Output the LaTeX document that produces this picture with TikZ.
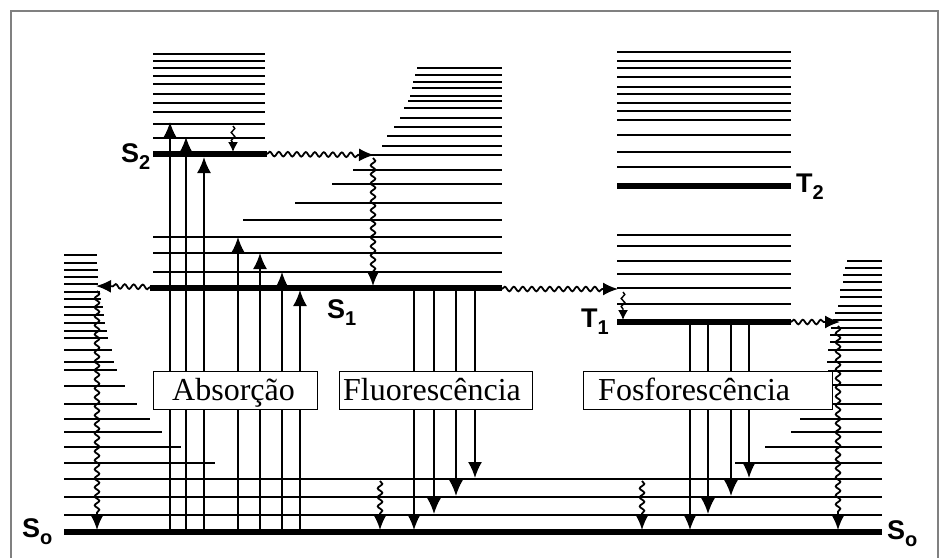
\documentclass[tikz,border=0pt]{standalone}
\usepackage{fontspec}
\setmainfont{Liberation Serif}
\setsansfont{Liberation Sans}
\usetikzlibrary{arrows.meta}
\usetikzlibrary{decorations.pathmorphing}

\newcommand{\est}[2]{#1\raisebox{-7pt}{\fontsize{20}{20}\selectfont #2}}

\begin{document}
\begin{tikzpicture}[x=1pt,y=-1pt,
		nivel/.style={line width=2pt},
		fundo/.style={line width=5.5pt},
		seta/.style={line width=1.8pt,-{Latex[length=16pt,width=14pt]}},
		onda/.style={line width=1.8pt,decorate,decoration={snake,amplitude=2.3pt,segment length=9pt,post length=14pt},-{Latex[length=15pt,width=13pt]}},
		ondinha/.style={line width=1.4pt,decorate,decoration={snake,amplitude=1.8pt,segment length=8pt,post length=9pt},-{Latex[length=10pt,width=10pt]}},
		caixa/.style={draw,line width=1pt,fill=white},
		rotulo/.style={font=\fontsize{32}{32}\selectfont,inner sep=0pt,anchor=base west},
		estado/.style={font=\sffamily\bfseries\fontsize{27}{27}\selectfont,inner sep=0pt,anchor=base west}]
		\useasboundingbox (0,0) rectangle (941,557);
		\draw[gray,line width=2pt] (11,11) rectangle (938,620);
		% S0 vibrational levels
		\foreach \y/\xf in {255/97,263/97,270/98,277/98,284/98,292/100,299/101,307/103,315/104,323/105,331/107,338/108,350/112,362/114,370/117,386/125,404/137,419/150,432/162,447/181,463/215}
			\draw[nivel] (64,\y) -- (\xf,\y);
		\foreach \y/\xi in {261/847,268/845,275/843,282/843,290/840,297/840,306/838,313/835,320/833,328/831,335/830,342/830,350/828,362/827,371/828,385/827,404/815,419/800,432/791,447/765,463/735}
			\draw[nivel] (\xi,\y) -- (882,\y);
		\foreach \y in {479,497,515}
			\draw[nivel] (64,\y) -- (882,\y);
		\draw[fundo] (64,532) -- (882,532);
		% S2
		\foreach \y in {54,61,68,76,84,94,103,112,124,138}
			\draw[nivel] (153,\y) -- (265,\y);
		\draw[fundo] (153,154) -- (267,154);
		% S1
		\foreach \y/\xi in {68/417,75/415,82/413,88/412,96/410,101/408,108/404,118/400,127/394,136/387,146/382,155/370,170/353,184/332,203/295,220/243,237/153,253/153,272/153}
			\draw[nivel] (\xi,\y) -- (502,\y);
		\draw[fundo] (150,288) -- (502,288);
		% T2 and T1
		\foreach \y in {52,61,68,77,87,94,103,111,120,135,152,167,235,246,261,274,288,304}
			\draw[nivel] (617,\y) -- (791,\y);
		\draw[fundo] (617,186) -- (791,186);
		\draw[fundo] (617,322) -- (791,322);
		% absorcao
		\foreach \x/\y in {170/122,186/137,204/157,238/237,260/253,282/272,300/290}
			\draw[seta] (\x,530) -- (\x,\y);
		% fluorescencia and fosforescencia
		\foreach \x/\y in {414/530,434/514,456/496,475/478}
			\draw[seta] (\x,290) -- (\x,\y);
		\foreach \x/\y in {690/530,708/514,731/496,749/478}
			\draw[seta] (\x,324) -- (\x,\y);
		% radiationless
		\draw[ondinha] (233,126) -- (233,152);
		\draw[onda] (267,154) -- (374,155);
		\draw[onda] (373,158) -- (373,286);
		\draw[onda] (150,287) -- (96,286);
		\draw[onda] (97,291) -- (97,530);
		\draw[onda] (502,289) -- (618,289);
		\draw[ondinha] (623,292) -- (623,320);
		\draw[onda] (791,322) -- (840,322);
		\draw[onda] (838,326) -- (838,530);
		\draw[onda] (380,481) -- (380,530);
		\draw[onda] (642,481) -- (642,530);
		% boxes
		\draw[caixa] (153,371) rectangle (317,409);
		\draw[caixa] (339,371) rectangle (532,409);
		\draw[caixa] (583,371) rectangle (832,409);
		\node[rotulo] (absorcao) at (172,400) {Absorção};
		\node[rotulo] (fluor) at (343,400) {Fluorescência};
		\node[rotulo] (fosfor) at (598,400) {Fosforescência};
		% labels
		\node[estado] (s0esq) at (22,537) {\est{S}{o}};
		\node[estado] (s0dir) at (887,539) {\est{S}{o}};
		\node[estado] (s2) at (121,162) {\est{S}{2}};
		\node[estado] (s1) at (327,318) {\est{S}{1}};
		\node[estado] (t1) at (581,327) {\est{T}{1}};
		\node[estado] (t2) at (796,192) {\est{T}{2}};
\end{tikzpicture}
\end{document}
